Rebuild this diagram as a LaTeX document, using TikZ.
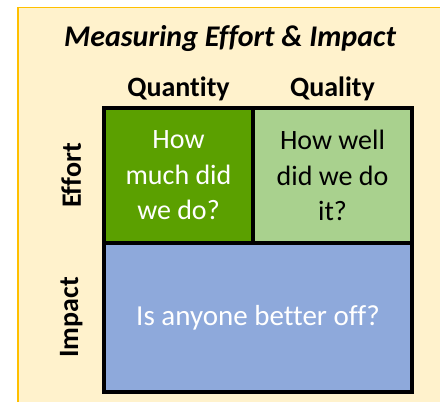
\documentclass[tikz,border=0pt]{standalone}
\usepackage{fontspec}
\setmainfont{Carlito}[Ligatures = NoCommon]
\usetikzlibrary{positioning}
\definecolor{mypanelfill}{RGB}{255, 242, 204}
\definecolor{mypanelborder}{RGB}{255, 192, 0}
\definecolor{myquantitygreen}{RGB}{91, 160, 0}
\definecolor{myqualitygreen}{RGB}{169, 209, 142}
\definecolor{myimpactblue}{RGB}{142, 169, 219}
\newcommand{\cellsize}{\fontsize{28}{35.5}\selectfont}
\newcommand{\headsize}{\fontsize{28}{32}\selectfont}

\begin{document}
\begin{tikzpicture}[x = 1pt, y = -1pt, cell/.style={draw = black, line width = 4pt, outer sep = 0pt, inner sep = 0pt, align = center, font = \cellsize}, head/.style={font = \headsize\bfseries, inner sep = 0pt}]
  \useasboundingbox (0,0) rectangle (440,402);
  \clip (0,0) rectangle (440,402);

  % panel
  \draw [fill = mypanelfill, draw = mypanelborder, line width = 1.5pt] (18,7.5) rectangle (460,420);
  \node [font = \fontsize{30}{34}\selectfont\bfseries\itshape, anchor = base] (title) at (230,46) {Measuring Effort \& Impact};

  % cells
  \node [cell, fill = myquantitygreen, text = white, minimum width = 149pt, minimum height = 135pt] (cell-quantity) at (178.5,175.5) {How\\much did\\we do?};
  \node [cell, fill = myqualitygreen, minimum width = 159pt, minimum height = 135pt] [right = 0pt of cell-quantity] (cell-quality) {How well\\did we do\\it?};
  \node [cell, fill = myimpactblue, text = white, minimum width = 308pt, minimum height = 149pt, anchor = north west, font = \fontsize{29}{35}\selectfont] (cell-impact) at (cell-quantity.south west) {Is anyone better off?};

  % headings
  \node [head] [above = 7pt of cell-quantity] (head-quantity) {Quantity};
  \node [head] [above = 7pt of cell-quality] (head-quality) {Quality};
  \node [head, rotate = 90, anchor = base] (head-effort) at (81,175.5) {Effort};
  \node [head, rotate = 90, anchor = base] (head-impact) at (78,317.5) {Impact};

\end{tikzpicture}
\end{document}
